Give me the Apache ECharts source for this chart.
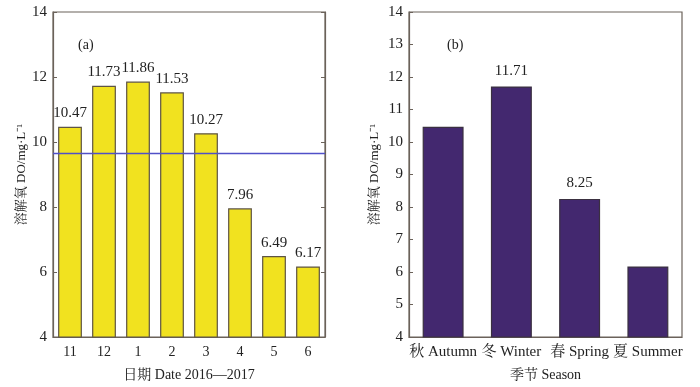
<!DOCTYPE html>
<html><head><meta charset="utf-8">
<script src="https://cdn.jsdelivr.net/npm/echarts@6/dist/echarts.min.js"></script>
<style>html,body{margin:0;padding:0;background:#fff}#c{width:700px;height:387px}</style>
</head><body><div id="c"></div>
<script>
const monthCats = ['11','12','1','2','3','4','5','6'];
const monthDO = [10.47, 11.73, 11.86, 11.53, 10.27, 7.96, 6.49, 6.17];
const meanLine = 9.65;
const seasonCats = ['秋 Autumn','冬 Winter','春 Spring','夏 Summer'];
const seasonDO = [10.47, 11.71, 8.25, 6.17];
const seasonLabelShown = [false, true, true, false];
const yTicksA = [4, 6, 8, 10, 12, 14];
const yTicksB = [4, 5, 6, 7, 8, 9, 10, 11, 12, 13, 14];

const FONT = '"Liberation Serif", "Noto Serif CJK SC", "Noto Sans CJK SC", serif';
const AX = '#6b625a';
const LINEC = '#5050c8';
const chart = echarts.init(document.getElementById('c'), null, {renderer:'canvas'});

function yAxis(grid, ticks, name, gap) {
  return {
    type:'value', gridIndex:grid, min:ticks[0], max:ticks[ticks.length-1], interval:ticks[1]-ticks[0],
    name:name, nameLocation:'middle', nameGap:gap, nameRotate:90,
    nameTextStyle:{fontFamily:FONT, fontSize:13, color:'#222'},
    axisLine:{show:true, lineStyle:{color:AX, width:1.2}},
    axisTick:{show:true, inside:true, length:4, lineStyle:{color:AX}},
    axisLabel:{fontFamily:FONT, fontSize:15, color:'#222', margin:6},
    splitLine:{show:false}
  };
}
function xAxis(grid, cats, name, fs) {
  return {
    type:'category', gridIndex:grid, data:cats,
    name:name, nameLocation:'middle', nameGap:31,
    nameTextStyle:{fontFamily:FONT, fontSize:14, color:'#222'},
    axisLine:{show:true, lineStyle:{color:AX, width:1.2}},
    axisTick:{show:false},
    axisLabel:{fontFamily:FONT, fontSize:fs, color:'#222', margin:8, interval:0},
    splitLine:{show:false}
  };
}
const yA = yAxis(0, yTicksA, '溶解氧 DO/mg·L⁻¹', 22);
const yA2 = Object.assign({}, yAxis(0, yTicksA, '', 0), {position:'right', axisLabel:{show:false}, name:''});
const yB = yAxis(1, yTicksB, '溶解氧 DO/mg·L⁻¹', 28);

chart.setOption({
  animation:false,
  grid:[
    {left:53, right:375, top:12, bottom:46, show:true, borderColor:AX, borderWidth:1.2, backgroundColor:'transparent'},
    {left:409, right:18, top:12, bottom:46, show:true, borderColor:AX, borderWidth:1.2, backgroundColor:'transparent'}
  ],
  xAxis:[xAxis(0, monthCats, '日期 Date 2016—2017', 14), xAxis(1, seasonCats, '季节 Season', 15)],
  yAxis:[yA, yB, yA2],
  graphic:[
    {type:'text', left:78, top:38, style:{text:'(a)', font:'14px '+FONT, fill:'#222'}},
    {type:'text', left:447, top:38, style:{text:'(b)', font:'14px '+FONT, fill:'#222'}}
  ],
  series:[
    {type:'bar', xAxisIndex:0, yAxisIndex:0, data:monthDO, barWidth:'70%',
     itemStyle:{color:'#f1e21f', borderColor:'#5e5444', borderWidth:1.2},
     label:{show:true, position:'top', distance:6, fontFamily:FONT, fontSize:15, color:'#222', formatter:p=>p.value.toFixed(2)},
     markLine:{silent:true, symbol:['none','none'], label:{show:false}, z:10,
       lineStyle:{color:LINEC, width:1.3, type:'solid'},
       data:[{yAxis:meanLine, lineStyle:{color:LINEC, width:1.3, type:'solid'}}]}
    },
    {type:'bar', xAxisIndex:1, yAxisIndex:1, barWidth:'60%',
     data:seasonDO.map((v,i)=>({value:v, label:{show:seasonLabelShown[i]}})),
     itemStyle:{color:'#43286f', borderColor:'#3a3040', borderWidth:1.2},
     label:{position:'top', distance:8, fontFamily:FONT, fontSize:15, color:'#222', formatter:p=>p.value.toFixed(2)}
    }
  ]
});
</script></body></html>
